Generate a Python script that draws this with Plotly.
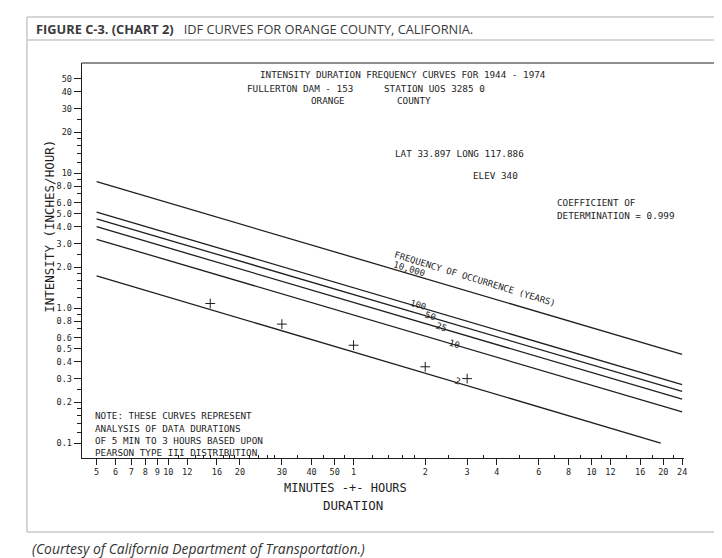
"""IDF curves for Orange County (Fullerton Dam), redrawn with Plotly."""

import plotly.graph_objects as go

# the page body has an 8px margin, so the figure is drawn 8px smaller
OFF = 8
W, H = 722 - OFF, 558 - OFF

# return-period curves: straight lines on log-log paper, end points
periods = ["10,000", "100", "50", "25", "10", "2"]
dur_start = [5, 5, 5, 5, 5, 5]
dur_end = [1440, 1440, 1440, 1440, 1440, 1170]
int_start = [8.63, 5.14, 4.58, 4.00, 3.23, 1.73]
int_end = [0.454, 0.271, 0.241, 0.211, 0.170, 0.100]

# plotted observations (+ marks)
obs_dur = [15, 30, 60, 120, 180]
obs_int = [1.08, 0.76, 0.53, 0.367, 0.30]

x_tickvals = [5, 6, 7, 8, 9, 10, 12, 16, 20, 30, 40, 50, 60, 120, 180, 240,
              360, 480, 600, 720, 960, 1200, 1440]
x_ticktext = ["5", "6", "7", "8", "9", "10", "12", "16", "20", "30", "40", "50",
              "1", "2", "3", "4", "6", "8", "10", "12", "16", "20", "24"]
x_minor = [11, 13, 14, 15, 17, 18, 19, 22, 24, 26, 28, 35, 45, 55, 72, 84, 96,
           108, 150, 210, 300, 420, 540, 660, 840, 1080, 1320]

y_tickvals = [0.1, 0.2, 0.3, 0.4, 0.5, 0.6, 0.8, 1, 2, 3, 4, 5, 6, 8, 10, 20, 30, 40, 50]
y_ticktext = ["0.1", "0.2", "0.3", "0.4", "0.5", "0.6", "0.8", "1.0", "2.0", "3.0",
              "4.0", "5.0", "6.0", "8.0", "10", "20", "30", "40", "50"]
y_minor = [0.12, 0.14, 0.16, 0.18, 0.25, 0.7, 0.9, 1.2, 1.4, 1.6, 1.8, 2.5, 7, 9,
           12, 14, 16, 18, 25]

INK = "#1e1e1e"
MONO = "DejaVu Sans Mono"


def px(x):
    return (x - OFF) / W


def py(y):
    return 1 - (y - OFF) / H


fig = go.Figure()

for name, x0, x1, y0, y1 in zip(periods, dur_start, dur_end, int_start, int_end):
    fig.add_trace(go.Scatter(
        x=[x0, x1], y=[y0, y1], mode="lines", name=name,
        line=dict(color=INK, width=1.3), showlegend=False, hoverinfo="skip",
    ))

fig.add_trace(go.Scatter(
    x=obs_dur, y=obs_int, mode="markers", showlegend=False,
    marker=dict(symbol="cross-thin", size=7, line=dict(color=INK, width=1)),
))

# text printed on the plotter sheet: (text, x px, y px, size, angle, xanchor)
chart_text = [
    ("INTENSITY DURATION FREQUENCY CURVES FOR 1944 - 1974", 259, 74, 9.3, 0, "left"),
    ("FULLERTON DAM - 153", 246, 88, 9.3, 0, "left"),
    ("STATION UOS 3285 0", 384, 88, 9.3, 0, "left"),
    ("ORANGE", 310, 101, 9.3, 0, "left"),
    ("COUNTY", 397, 101, 9.3, 0, "left"),
    ("LAT 33.897 LONG 117.886", 395, 153, 9.3, 0, "left"),
    ("ELEV 340", 473, 176, 9.3, 0, "left"),
    ("COEFFICIENT OF", 557, 202, 9.3, 0, "left"),
    ("DETERMINATION = 0.999", 557, 215, 9.3, 0, "left"),
    ("NOTE: THESE CURVES REPRESENT", 93, 415, 9.3, 0, "left"),
    ("ANALYSIS OF DATA DURATIONS", 93, 428, 9.3, 0, "left"),
    ("OF 5 MIN TO 3 HOURS BASED UPON", 93, 440, 9.3, 0, "left"),
    ("PEARSON TYPE III DISTRIBUTION", 93, 452, 9.3, 0, "left"),
    ("FREQUENCY OF OCCURRENCE (YEARS)", 477, 279, 9, 17, "center"),
    ("10,000", 411, 269, 9, 17, "center"),
    ("100", 420, 305, 9, 17, "center"),
    ("50", 432, 316, 9, 17, "center"),
    ("25", 443, 327, 9, 17, "center"),
    ("10", 456, 344, 9, 17, "center"),
    ("2", 459, 381, 9, 17, "center"),
    ("MINUTES -+- HOURS", 347, 488, 12, 0, "center"),
    ("DURATION", 354, 505, 12.5, 0, "center"),
    ("INTENSITY (INCHES/HOUR)", 49, 226, 12.5, -90, "center"),
]

annotations = []
for text, x, y, size, angle, anchor in chart_text:
    annotations.append(dict(
        text=text, x=px(x), y=py(y), xref="paper", yref="paper",
        xanchor=anchor, yanchor="middle", textangle=angle, showarrow=False,
        font=dict(family=MONO, size=size, color=INK),
    ))

annotations.append(dict(
    text="<b>FIGURE C-3. (CHART 2)</b>   IDF CURVES FOR ORANGE COUNTY, CALIFORNIA.",
    x=px(34), y=py(29), xref="paper", yref="paper", xanchor="left",
    yanchor="middle", showarrow=False,
    font=dict(family="Open Sans", size=12.8, color="#3a3a3a"),
))
annotations.append(dict(
    text="<i>(Courtesy of California Department of Transportation.)</i>",
    x=px(30), y=py(548), xref="paper", yref="paper", xanchor="left",
    yanchor="middle", showarrow=False,
    font=dict(family="Open Sans", size=13.9, color="#333333"),
))

frame = dict(color="#c8c8c8", width=1.5)
shapes = [
    dict(type="line", xref="paper", yref="paper", x0=px(27), x1=1, y0=py(17), y1=py(17), line=frame),
    dict(type="line", xref="paper", yref="paper", x0=px(27), x1=1, y0=py(40), y1=py(40), line=frame),
    dict(type="line", xref="paper", yref="paper", x0=px(27), x1=1, y0=py(532), y1=py(532), line=frame),
    dict(type="line", xref="paper", yref="paper", x0=px(27), x1=px(27), y0=py(17), y1=py(532), line=frame),
    # top edge of the plotter sheet
    dict(type="line", xref="paper", yref="paper", x0=px(82), x1=px(720), y0=py(63), y1=py(63),
         line=dict(color=INK, width=1.2)),
]

fig.update_layout(
    width=W, height=H, margin=dict(l=0, r=0, t=0, b=0),
    paper_bgcolor="white", plot_bgcolor="white",
    annotations=annotations, shapes=shapes, showlegend=False,
    xaxis=dict(
        type="log", range=[0.6362, 3.1668], domain=[px(82), px(687)],
        tickmode="array", tickvals=x_tickvals, ticktext=x_ticktext,
        ticks="outside", ticklen=6, tickwidth=1, tickcolor=INK,
        tickfont=dict(family=MONO, size=8.5, color=INK),
        showline=True, linecolor=INK, linewidth=1.2, showgrid=False, zeroline=False,
        minor=dict(tickmode="array", tickvals=x_minor, ticks="inside", ticklen=3,
                   tickcolor=INK, showgrid=False),
    ),
    yaxis=dict(
        type="log", range=[-1.111, 1.815], domain=[py(458), py(63)],
        tickmode="array", tickvals=y_tickvals, ticktext=y_ticktext,
        ticks="outside", ticklen=7, tickwidth=1, tickcolor=INK,
        tickfont=dict(family=MONO, size=8.5, color=INK),
        showline=True, linecolor=INK, linewidth=1.2, showgrid=False, zeroline=False,
        minor=dict(tickmode="array", tickvals=y_minor, ticks="outside", ticklen=4,
                   tickcolor=INK, showgrid=False),
    ),
)

fig.write_html("out.html")
